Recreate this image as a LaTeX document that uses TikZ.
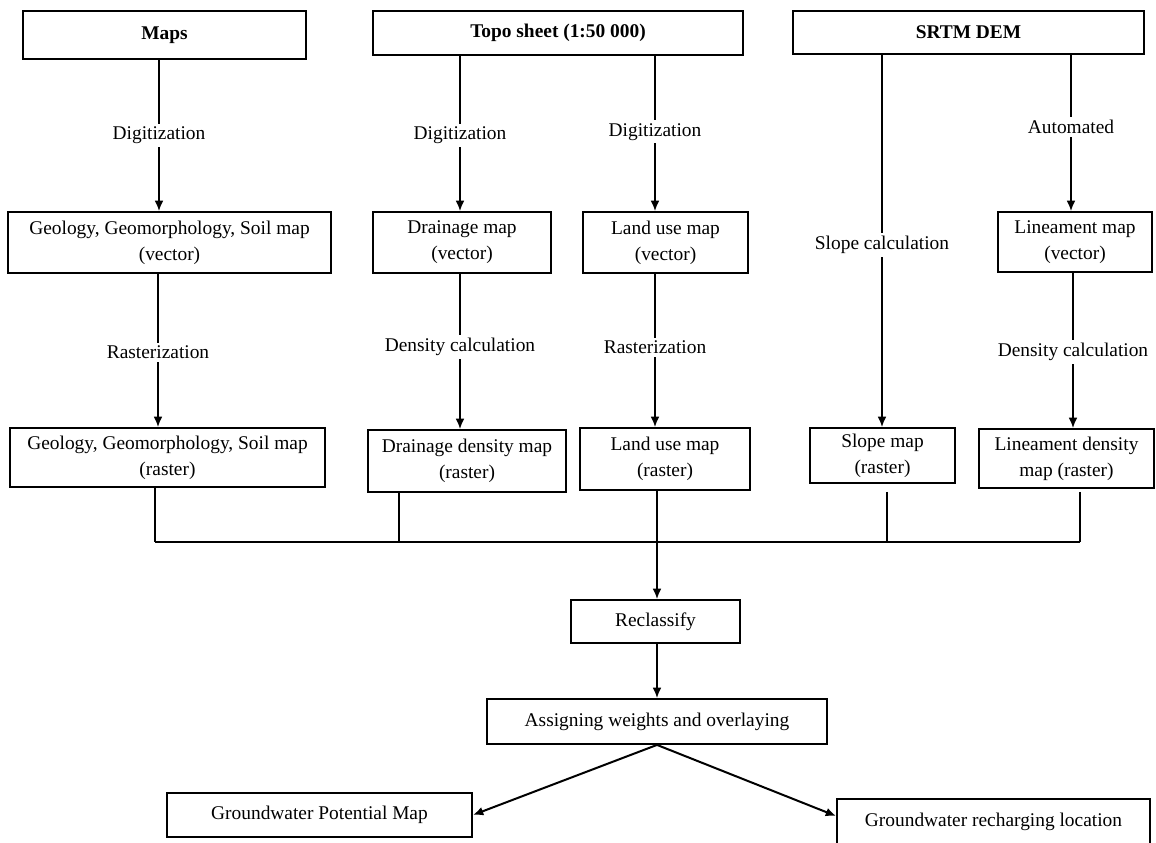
\documentclass[tikz,border=0pt]{standalone}
\usepackage{fontspec}
\setmainfont{Liberation Serif}
\usetikzlibrary{%
	arrows.meta,%
	calc%
}
\tikzset{
	box/.style={draw, line width=0.9pt, align=center, inner sep=0pt},
	lbl/.style={fill=white, inner sep=1.5pt},
	conn/.style={line width=0.8pt}
}

\begin{document}
\begin{tikzpicture}[x=0.5pt, y=-0.5pt, >={Latex[length=5.2pt,width=4.4pt]}, font=\fontsize{9.7}{13}\selectfont]
		\useasboundingbox (0,0) rectangle (1156,842);
		\node[box, minimum width=141.5pt, minimum height=24pt] (maps) at (164.5,35) {\textbf{Maps}};
		\node[box, minimum width=185pt, minimum height=22pt] (topo) at (558,33) {\textbf{Topo sheet (1:50 000)}};
		\node[box, minimum width=175.5pt, minimum height=21.5pt] (srtm) at (968.5,32.5) {\textbf{SRTM DEM}};
		\node[box, minimum width=161.5pt, minimum height=30.5pt] (geovec) at (169.5,242.5) {Geology, Geomorphology, Soil map\\(vector)};
		\node[box, minimum width=89pt, minimum height=30.5pt] (drainvec) at (462,242.5) {Drainage map\\(vector)};
		\node[box, minimum width=82.5pt, minimum height=30.5pt] (landvec) at (665.5,242.5) {Land use map\\(vector)};
		\node[box, minimum width=77pt, minimum height=30pt] (linvec) at (1075,242) {Lineament map\\(vector)};
		\node[box, minimum width=157.5pt, minimum height=29.5pt] (georas) at (167.5,457.5) {Geology, Geomorphology, Soil map\\(raster)};
		\node[box, minimum width=99pt, minimum height=31pt] (drainras) at (467,461) {Drainage density map\\(raster)};
		\node[box, minimum width=85pt, minimum height=31pt] (landras) at (665,459) {Land use map\\(raster)};
		\node[box, minimum width=72.5pt, minimum height=27.5pt] (slope) at (882.5,455.5) {Slope map\\(raster)};
		\node[box, minimum width=87.5pt, minimum height=29.5pt] (linras) at (1066.5,458.5) {Lineament density\\map (raster)};
		\node[box, minimum width=84.5pt, minimum height=21.5pt] (reclass) at (655.5,621.5) {Reclassify};
		\node[box, minimum width=170pt, minimum height=22.5pt] (assign) at (657,721.5) {Assigning weights and overlaying};
		\node[box, minimum width=152.5pt, minimum height=22pt] (gwpot) at (319.5,815) {Groundwater Potential Map};
		\node[box, minimum width=156.5pt, minimum height=23pt] (gwrech) at (993.5,822) {Groundwater recharging location};
		\coordinate (busL) at (155,542);
		\coordinate (busR) at (1080,542);
		\draw[conn, ->] ([xshift=-2.75pt]maps.south) -- node[lbl] {Digitization} ([xshift=-5.25pt]geovec.north);
		\draw[conn, ->] ([xshift=-49pt]topo.south) -- node[lbl, pos=0.51] {Digitization} ([xshift=-1pt]drainvec.north);
		\draw[conn, ->] ([xshift=48.5pt]topo.south) -- node[lbl, pos=0.49] {Digitization} ([xshift=-5.25pt]landvec.north);
		\draw[conn, ->] ([xshift=-43.25pt]srtm.south) -- node[lbl, pos=0.51] {Slope calculation} ([xshift=-0.25pt]slope.north);
		\draw[conn, ->] ([xshift=51.25pt]srtm.south) -- node[lbl, pos=0.46] {Automated} ([xshift=-2pt]linvec.north);
		\draw[conn, ->] ([xshift=-5.75pt]geovec.south) -- node[lbl, pos=0.51] {Rasterization} ([xshift=-4.75pt]georas.north);
		\draw[conn, ->] ([xshift=-1pt]drainvec.south) -- node[lbl, pos=0.47] {Density calculation} ([xshift=-3.5pt]drainras.north);
		\draw[conn, ->] ([xshift=-5.25pt]landvec.south) -- node[lbl, pos=0.48] {Rasterization} ([xshift=-5pt]landras.north);
		\draw[conn, ->] ([xshift=-1pt]linvec.south) -- node[lbl, pos=0.51] {Density calculation} ([xshift=3.25pt]linras.north);
		\draw[conn] (busL) -- (busR);
		\draw[conn] ([xshift=-6.25pt]georas.south) -- (busL);
		\draw[conn] ([xshift=-34pt]drainras.south) -- ([xshift=-34pt]drainras.south |- busL);
		\draw[conn, shorten <=4pt] ([xshift=2.25pt]slope.south) -- ([xshift=2.25pt]slope.south |- busL);
		\draw[conn, shorten <=1.5pt] ([xshift=6.75pt]linras.south) -- (busR);
		\draw[conn, ->] ([xshift=-4pt]landras.south) -- ([xshift=0.75pt]reclass.north);
		\draw[conn, ->] ([xshift=0.75pt]reclass.south) -- (assign.north);
		\draw[conn, ->, line width=1pt] (assign.south) -- (gwpot.east);
		\draw[conn, ->, line width=1pt] (assign.south) -- ([yshift=3pt]gwrech.west);
	\end{tikzpicture}
\end{document}
